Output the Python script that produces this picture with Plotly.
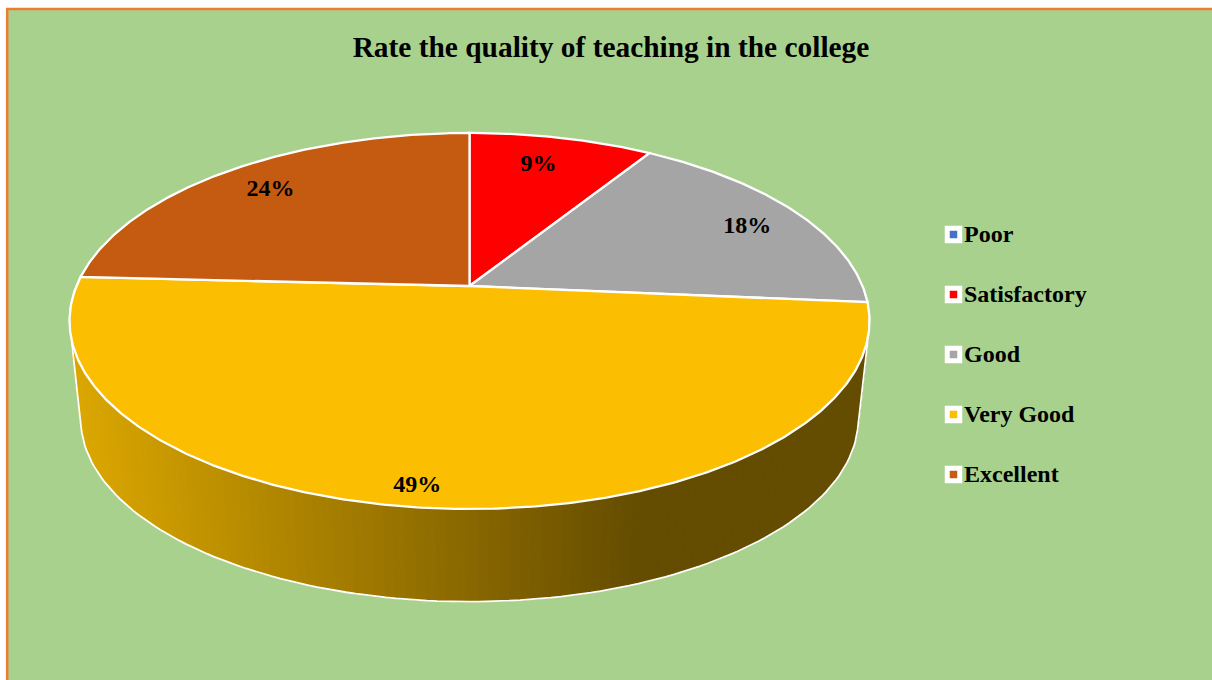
import numpy as np
import plotly.graph_objects as go

CATEGORIES = ["Poor", "Satisfactory", "Good", "Very Good", "Excellent"]
VALUES = [0, 8.9, 17.5, 49.4, 24.2]
LABELS = ["", "9%", "18%", "49%", "24%"]
COLORS = ["#4472C4", "#FF0000", "#A5A5A5", "#FBBE00", "#C55A11"]
TITLE = "Rate the quality of teaching in the college"

FONT = "Liberation Serif"
GREEN = "#A9D18E"
ORANGE = "#ED7D31"
CX = 469.5
K = 0.186
TOP = dict(a=393.0, h=181.5, y0=286.0)
BASE = dict(a=382.0, h=176.4, y0=385.0)
LABEL_R = [0, 0.80, 0.835, 0.914, 0.823]
LABEL_DA = [0, -1.5, 1.0, 3.0, 0.4]
LABEL_DY = 2.0
LEGEND_X = 953.5
LEGEND_TEXT_X = 964.0
LEGEND_Y = [234.5, 294.5, 354.5, 414.5, 474.5]
LEGEND_TEXT_DY = 1.0


def project(theta_deg, r, disc):
    t = np.radians(theta_deg)
    u, v = r * np.sin(t), r * np.cos(t)
    w = 1 + K * v
    return CX + disc["a"] * u / w, disc["y0"] - disc["h"] * v / w


def hull(points):
    pts = sorted(set(points))
    def half(seq):
        out = []
        for p in seq:
            while len(out) > 1 and ((out[-1][0] - out[-2][0]) * (p[1] - out[-2][1])
                                    - (out[-1][1] - out[-2][1]) * (p[0] - out[-2][0])) <= 0:
                out.pop()
            out.append(p)
        return out
    lo, up = half(pts), half(pts[::-1])
    return lo[:-1] + up[:-1]


edges = np.concatenate([[0], np.cumsum(VALUES)]) / sum(VALUES) * 360
fig = go.Figure()

# Side wall of the near slice, shaded left to right
vg = CATEGORIES.index("Very Good")
wall_angles = np.linspace(edges[vg + 1], edges[vg], 141)
c0, c1 = np.array([221, 168, 0]), np.array([100, 76, 0])
for a0, a1 in zip(wall_angles[:-1], wall_angles[1:]):
    th = np.array([a0, a1])
    xt, yt = project(th, 1, TOP)
    xb, yb = project(th, 1, BASE)
    f = np.clip((xb.mean() - 80) / 560, 0, 1)
    r, g, b = (c0 + (c1 - c0) * f).astype(int)
    col = f"rgb({r},{g},{b})"
    fig.add_trace(go.Scatter(
        x=[xt[0], xt[1], xb[1], xb[0], xt[0]], y=[yt[0], yt[1], yb[1], yb[0], yt[0]],
        mode="lines", fill="toself", fillcolor=col, line=dict(color=col, width=1),
        hoverinfo="skip", showlegend=False))

# White silhouette of the wall
xt, yt = project(wall_angles, 1, TOP)
xb, yb = project(wall_angles, 1, BASE)
outline = hull(list(zip(xt.tolist(), yt.tolist())) + list(zip(xb.tolist(), yb.tolist())))
outline.append(outline[0])
fig.add_trace(go.Scatter(
    x=[p[0] for p in outline], y=[p[1] for p in outline], mode="lines",
    line=dict(color="white", width=1.8), hoverinfo="skip", showlegend=False))

# Top face slices
for i, cat in enumerate(CATEGORIES):
    if VALUES[i] == 0:
        continue
    n = max(int(edges[i + 1] - edges[i]) * 2, 4)
    th = np.linspace(edges[i], edges[i + 1], n)
    x, y = project(th, 1, TOP)
    ax, ay = project(np.array([0.0]), 0, TOP)
    fig.add_trace(go.Scatter(
        x=np.concatenate([ax, x, ax]), y=np.concatenate([ay, y, ay]),
        mode="lines", fill="toself", fillcolor=COLORS[i],
        line=dict(color="white", width=2.3), name=cat,
        hoverinfo="name", showlegend=False))

# Data labels
lx, ly, lt = [], [], []
for i in range(len(CATEGORIES)):
    if VALUES[i] == 0:
        continue
    mid = (edges[i] + edges[i + 1]) / 2 + LABEL_DA[i]
    px, py = project(np.array([mid]), LABEL_R[i], TOP)
    lx.append(px[0]); ly.append(py[0] + LABEL_DY); lt.append(LABELS[i])
fig.add_trace(go.Scatter(
    x=lx, y=ly, text=lt, mode="text", textposition="middle center",
    textfont=dict(family=FONT, size=24, color="black"),
    texttemplate="<b>%{text}</b>", hoverinfo="skip", showlegend=False))

# Legend keys with labels
for cat, col, yy in zip(CATEGORIES, COLORS, LEGEND_Y):
    fig.add_trace(go.Scatter(
        x=[LEGEND_X], y=[yy], mode="markers", name=cat,
        marker=dict(symbol="square", size=12.5, color=col, line=dict(color="white", width=5)),
        hoverinfo="skip", showlegend=False))
fig.add_trace(go.Scatter(
    x=[LEGEND_TEXT_X] * len(CATEGORIES), y=[v + LEGEND_TEXT_DY for v in LEGEND_Y], text=CATEGORIES,
    mode="text", textposition="middle right",
    textfont=dict(family=FONT, size=24, color="black"),
    texttemplate="<b>%{text}</b>", hoverinfo="skip", showlegend=False))

fig.update_layout(
    width=1212, height=680, autosize=False,
    margin=dict(l=0, r=0, t=0, b=0),
    paper_bgcolor="white", plot_bgcolor="white",
    showlegend=False,
    title=dict(text=f"<b>{TITLE}</b>", x=611 / 1212, xanchor="center",
               y=1 - 47 / 680, yanchor="middle",
               font=dict(family=FONT, size=29.4, color="black")),
    xaxis=dict(range=[0, 1212], visible=False, fixedrange=True),
    yaxis=dict(range=[680, 0], visible=False, fixedrange=True),
    shapes=[dict(type="rect", xref="x", yref="y", x0=7.2, y0=9, x1=1400, y1=900,
                 fillcolor=GREEN, line=dict(color=ORANGE, width=2.5), layer="below")],
)
fig.write_html("out.html", config={"displayModeBar": False},
               post_script="document.body.style.margin='0';document.documentElement.style.overflow='hidden';")
